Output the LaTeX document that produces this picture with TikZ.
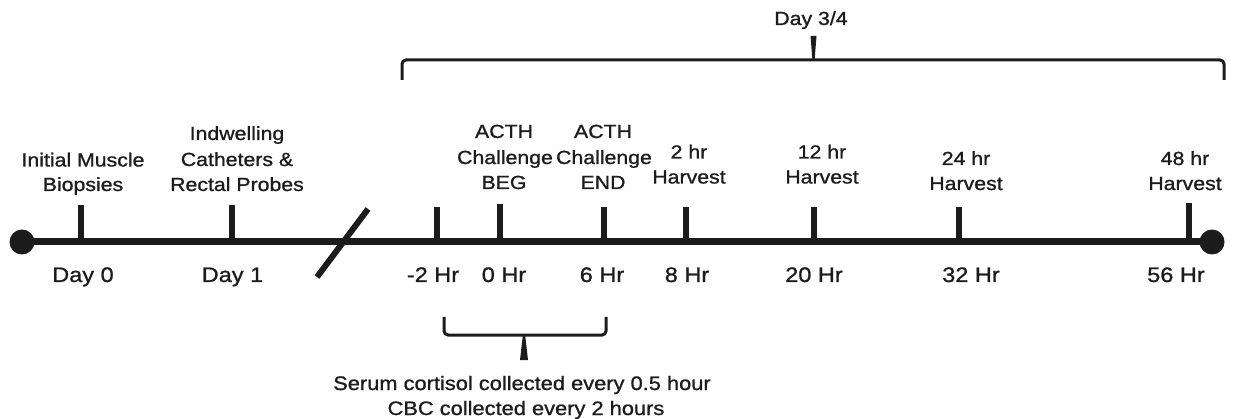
\documentclass[tikz,border=0pt]{standalone}
\usepackage{fontspec}
\setmainfont[FakeStretch=1.12,FakeBold=1]{Liberation Sans}
\definecolor{ink}{RGB}{28,28,28}
\newcommand\setfs[1]{\fontsize{#1}{#1}\selectfont}
\tikzset{
  lab/.style={inner sep=0pt, anchor=base, text=ink},
  toplab/.style={lab, font=\setfs{19}},
  botlab/.style={lab, font=\setfs{21}},
  notelab/.style={lab, font=\setfs{19.5}},
  axis/.style={draw=ink, line width=7pt},
  tick/.style={draw=ink, line width=6.5pt},
  brace/.style={draw=ink, line width=3pt, rounded corners=4pt},
  enddot/.style={circle, fill=ink, minimum size=25pt, inner sep=0pt}
}
\begin{document}
\begin{tikzpicture}[x=1pt,y=-1pt]
\useasboundingbox[fill=white] (0,0) rectangle (1241,419);
% timeline
\node[enddot] (L) at (22,242) {};
\node[enddot] (R) at (1212,242) {};
\draw[axis] (L.center) -- (R.center);
% ticks
\coordinate (t0) at (81,242);
\coordinate (t1) at (232,242);
\coordinate (t2) at (437,242);
\coordinate (t3) at (500,242);
\coordinate (t4) at (604,242);
\coordinate (t5) at (686,242);
\coordinate (t6) at (814,242);
\coordinate (t7) at (959,242);
\coordinate (t8) at (1189,242);
\draw[tick] (t0) -- ++(0,-37);
\draw[tick] (t1) -- ++(0,-37);
\draw[tick] (t2) -- ++(0,-35);
\draw[tick] (t3) -- ++(0,-38);
\draw[tick] (t4) -- ++(0,-35);
\draw[tick] (t5) -- ++(0,-35);
\draw[tick] (t6) -- ++(0,-35);
\draw[tick] (t7) -- ++(0,-35);
\draw[tick] (t8) -- ++(0,-39);
% break mark
\coordinate (s1) at (317,277);
\coordinate (s2) at (368,209);
\draw[draw=ink, line width=6pt] (s1) -- (s2);
% top labels
\node[toplab] (a1) at (83,166.5) {Initial Muscle};
\node[toplab] (a2) at (83,191) {Biopsies};
\node[toplab] (b1) at (237,140) {Indwelling};
\node[toplab] (b2) at (237,166) {Catheters \&};
\node[toplab] (b3) at (237,191) {Rectal Probes};
\node[toplab] (c1) at (504,138) {ACTH};
\node[toplab] (c2) at (505,164) {Challenge};
\node[toplab] (c3) at (504,189) {BEG};
\node[toplab] (d1) at (603,138) {ACTH};
\node[toplab] (d2) at (604,164) {Challenge};
\node[toplab] (d3) at (603,189) {END};
\node[toplab] (e1) at (689,158.5) {2 hr};
\node[toplab] (e2) at (689,183.5) {Harvest};
\node[toplab] (f1) at (822,158.5) {12 hr};
\node[toplab] (f2) at (822,183.5) {Harvest};
\node[toplab] (g1) at (966,165) {24 hr};
\node[toplab] (g2) at (966,190) {Harvest};
\node[toplab] (h1) at (1185,165) {48 hr};
\node[toplab] (h2) at (1185,190) {Harvest};
% bottom labels
\node[botlab] (n0) at (83,282) {Day 0};
\node[botlab] (n1) at (232.5,282) {Day 1};
\node[botlab] (n2) at (433,282) {-2 Hr};
\node[botlab] (n3) at (504,282) {0 Hr};
\node[botlab] (n4) at (602,282) {6 Hr};
\node[botlab] (n5) at (687,282) {8 Hr};
\node[botlab] (n6) at (814,282) {20 Hr};
\node[botlab] (n7) at (971,282) {32 Hr};
\node[botlab] (n8) at (1176,282) {56 Hr};
% top brace
\node[toplab] (day34) at (811,25) {Day 3/4};
\coordinate (tb1) at (402,80);
\coordinate (tb2) at (1224,80);
\draw[brace] (tb1) -- (402,60) -- (1224,60) -- (tb2);
\fill[ink] (810.5,36) -- (816.5,36) -- (814.5,61) -- (812.5,61) -- cycle;
% bottom brace
\coordinate (bb1) at (444,317);
\coordinate (bb2) at (606,317);
\draw[brace] (bb1) -- (444,335) -- (606,335) -- (bb2);
\fill[ink] (523,334) -- (525,334) -- (528,360) -- (520,360) -- cycle;
\node[notelab] (s1t) at (522,390) {Serum cortisol collected every 0.5 hour};
\node[notelab] (s2t) at (526,415) {CBC collected every 2 hours};
\end{tikzpicture}
\end{document}
